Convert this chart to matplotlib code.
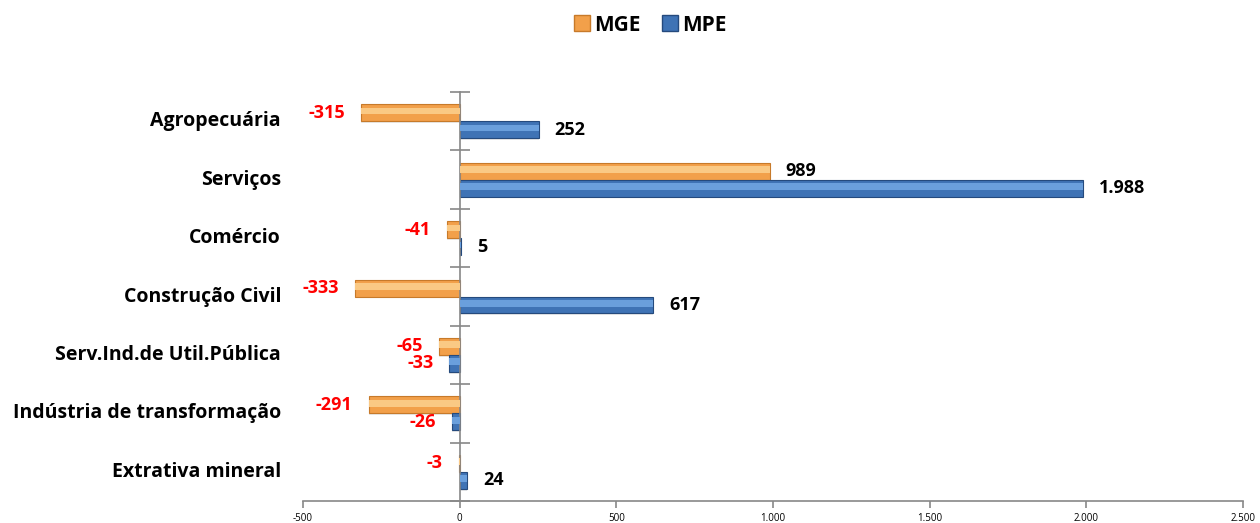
import matplotlib.pyplot as plt
from matplotlib.patches import Patch
from matplotlib.ticker import FuncFormatter

categorias = ["Agropecuária", "Serviços", "Comércio", "Construção Civil",
              "Serv.Ind.de Util.Pública", "Indústria de transformação", "Extrativa mineral"]
mge = [-315, 989, -41, -333, -65, -291, -3]
mpe = [252, 1988, 5, 617, -33, -26, 24]

plt.rcParams['font.family'] = ['Open Sans', 'DejaVu Sans']

fig = plt.figure(figsize=(12.6, 5.23), dpi=100)
ax = fig.add_axes([0.2405, 0.042, 0.746, 0.782])

h = 0.29
n = len(categorias)
ys = list(range(n))

def bevel(ax, vals, off, base, light, dark):
    # barra principal + sombra + faixa clara para imitar o efeito 3D do Excel
    ax.barh([y + off + 0.03 for y in ys], vals, height=h, left=0,
            color='#bbbbbb', alpha=0.35, zorder=1)
    ax.barh([y + off for y in ys], vals, height=h, color=base,
            edgecolor=dark, linewidth=0.8, zorder=2)
    ax.barh([y + off - h * 0.1 for y in ys], vals, height=h * 0.4,
            color=light, linewidth=0, zorder=3)

bevel(ax, mge, -h / 2, '#F2A04A', '#FAC984', '#C77A2A')
bevel(ax, mpe, h / 2, '#3F73B5', '#6A9FDC', '#254A7D')

def fmt(v):
    return f"{v:,}".replace(",", ".")

for vals, off in ((mge, -h / 2), (mpe, h / 2)):
    for y, v in zip(ys, vals):
        if v >= 0:
            ax.annotate(fmt(v), (v, y + off), xytext=(11.5, 0), textcoords='offset points',
                        ha='left', va='center', fontsize=13, fontweight='bold', color='black')
        else:
            ax.annotate(fmt(v), (v, y + off), xytext=(-11.5, 0), textcoords='offset points',
                        ha='right', va='center', fontsize=13, fontweight='bold', color='#FF0000')

ax.set_xlim(-500, 2500)
ax.set_ylim(n - 0.5, -0.5)
ax.set_xticks(range(-500, 2501, 500))
ax.xaxis.set_major_formatter(FuncFormatter(lambda v, p: fmt(int(v))))
ax.tick_params(axis='x', labelsize=7, length=5, color='#888888', width=1.2)

ax.set_yticks([y - 0.5 for y in ys] + [n - 0.5])
ax.set_yticklabels([])
ax.tick_params(axis='y', direction='inout', length=14, color='#888888', width=1.2)

for s in ('top', 'right'):
    ax.spines[s].set_visible(False)
ax.spines['left'].set_position(('data', 0))
for s in ('left', 'bottom'):
    ax.spines[s].set_color('#888888')
    ax.spines[s].set_linewidth(1.2)

for y, c in zip(ys, categorias):
    ax.text(-0.0234, y, c, transform=ax.get_yaxis_transform(), ha='right', va='center',
            fontsize=14, fontweight='bold')

handles = [Patch(facecolor='#F2A04A', edgecolor='#C77A2A', label='MGE'),
           Patch(facecolor='#3F73B5', edgecolor='#254A7D', label='MPE')]
fig.legend(handles=handles, loc='center', bbox_to_anchor=(0.516, 0.952), ncol=2,
           frameon=False, prop={'size': 15, 'weight': 'bold'}, handlelength=0.8,
           handleheight=0.8, handletextpad=0.2, columnspacing=1.0)

fig.savefig('out.png', dpi=100)
